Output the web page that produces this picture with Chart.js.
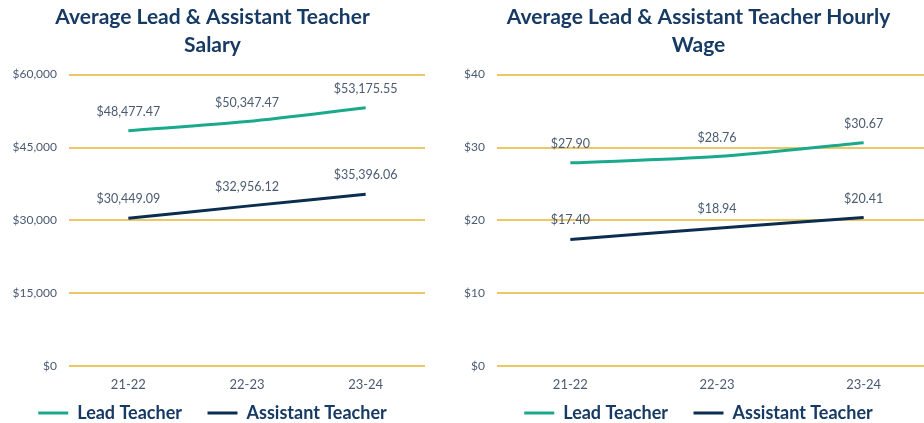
<!DOCTYPE html>
<html>
<head>
<meta charset="utf-8">
<script src="https://cdn.jsdelivr.net/npm/chart.js@4.4.1/dist/chart.umd.min.js"></script>
<style>
  html, body { margin: 0; padding: 0; background: #fff; overflow: hidden; width: 924px; height: 423px; }
  #wrap1 { position: absolute; left: 0; top: 0; width: 440px; height: 423px; }
  #wrap2 { position: absolute; left: 460px; top: 0; width: 486px; height: 423px; }
</style>
</head>
<body>
<div id="wrap1"><canvas id="salaryChart"></canvas></div>
<div id="wrap2"><canvas id="wageChart"></canvas></div>
<script>
const years = ['21-22', '22-23', '23-24'];
const leadSalary = [48477.47, 50347.47, 53175.55];
const assistantSalary = [30449.09, 32956.12, 35396.06];
const leadWage = [27.90, 28.76, 30.67];
const assistantWage = [17.40, 18.94, 20.41];

const leadColor = '#1BA98C';
const assistantColor = '#0B2D50';
const gridColor = '#EBC865';
const textColor = '#4A5A72';
const titleColor = '#163A63';
const fontFamily = 'Lato, "Noto Sans", sans-serif';

function money(v) {
    return '$' + v.toLocaleString('en-US', { minimumFractionDigits: 2, maximumFractionDigits: 2 });
}

// draws the value above each point
const valueLabels = {
    id: 'valueLabels',
    afterDatasetsDraw(chart) {
        const ctx = chart.ctx;
        ctx.save();
        ctx.font = '12.5px ' + fontFamily;
        ctx.fillStyle = textColor;
        ctx.textAlign = 'center';
        ctx.textBaseline = 'middle';
        chart.data.datasets.forEach(function (ds, i) {
            chart.getDatasetMeta(i).data.forEach(function (pt, j) {
                ctx.fillText(money(ds.data[j]), pt.x, pt.y - 19);
            });
        });
        ctx.restore();
    }
};

// legend sits lower, closer to the bottom edge
const tightLegend = {
    id: 'tightLegend',
    beforeInit(chart) {
        const fit = chart.legend.fit;
        chart.legend.fit = function () {
            fit.bind(chart.legend)();
            this.height -= 9;
        };
    }
};

function makeChart(id, title, lead, assistant, max, step, yWidth, padRight, tickFmt) {
    const ctx = document.getElementById(id).getContext('2d');
    return new Chart(ctx, {
        type: 'line',
        data: {
            labels: years,
            datasets: [
                {
                    label: 'Lead Teacher',
                    data: lead,
                    borderColor: leadColor,
                    backgroundColor: leadColor,
                    borderWidth: 3,
                    pointRadius: 0,
                    tension: 0.3
                },
                {
                    label: 'Assistant Teacher',
                    data: assistant,
                    borderColor: assistantColor,
                    backgroundColor: assistantColor,
                    borderWidth: 3,
                    pointRadius: 0,
                    tension: 0.3
                }
            ]
        },
        plugins: [valueLabels, tightLegend],
        options: {
            responsive: true,
            maintainAspectRatio: false,
            animation: false,
            layout: { padding: { left: 0, right: padRight, top: 0, bottom: 0 } },
            plugins: {
                title: {
                    display: true,
                    text: title,
                    color: titleColor,
                    font: { family: fontFamily, size: 21, weight: 'bold', lineHeight: 1.3 },
                    padding: { top: 4, bottom: 16 }
                },
                legend: {
                    position: 'bottom',
                    labels: {
                        color: titleColor,
                        boxWidth: 30,
                        boxHeight: 3,
                        padding: 8,
                        font: { family: fontFamily, size: 18, weight: 'bold' },
                        generateLabels: function (chart) {
                            return Chart.defaults.plugins.legend.labels.generateLabels(chart).map(function (item, i) {
                                item.lineWidth = 0;
                                if (i === 0) item.text += '    ';
                                return item;
                            });
                        }
                    }
                },
                tooltip: { enabled: false }
            },
            scales: {
                x: {
                    offset: true,
                    grid: { display: false },
                    border: { display: false },
                    ticks: { color: textColor, font: { family: fontFamily, size: 13 }, padding: 3 }
                },
                y: {
                    min: 0,
                    max: max,
                    afterFit: function (scale) { scale.width = yWidth; },
                    grid: { color: gridColor, lineWidth: 2, drawTicks: false },
                    border: { display: false },
                    ticks: {
                        stepSize: step,
                        color: textColor,
                        padding: 12,
                        font: { family: fontFamily, size: 12 },
                        callback: tickFmt
                    }
                }
            }
        }
    });
}

makeChart('salaryChart', ['Average Lead & Assistant Teacher', 'Salary'],
    leadSalary, assistantSalary, 60000, 15000, 69, 15,
    function (v) { return '$' + v.toLocaleString('en-US'); });

makeChart('wageChart', ['Average Lead & Assistant Teacher Hourly', 'Wage'],
    leadWage, assistantWage, 40, 10, 37, 9,
    function (v) { return '$' + v; });
</script>
</body>
</html>
